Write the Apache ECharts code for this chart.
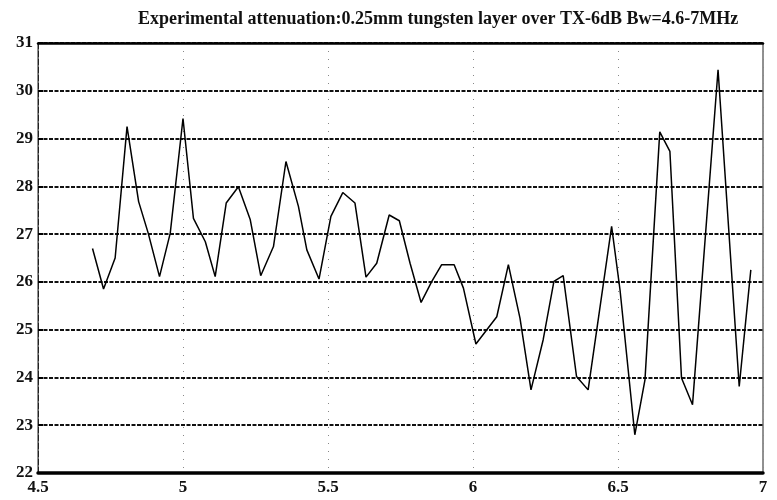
<!DOCTYPE html>
<html>
<head>
<meta charset="utf-8">
<script src="https://cdn.jsdelivr.net/npm/echarts@6/dist/echarts.min.js"></script>
<style>
html,body{margin:0;padding:0;background:#fff;}
#c{width:777px;height:500px;}
</style>
</head>
<body>
<div id="c"></div>
<script>
var titleText = 'Experimental attenuation:0.25mm tungsten layer over TX-6dB Bw=4.6-7MHz';
var freqMHz = [4.688,4.726,4.766,4.807,4.847,4.880,4.919,4.956,5.000,5.036,5.077,5.111,5.149,5.191,5.232,5.268,5.312,5.355,5.398,5.427,5.469,5.510,5.551,5.593,5.631,5.668,5.711,5.746,5.783,5.821,5.858,5.892,5.935,5.967,6.010,6.082,6.122,6.162,6.200,6.242,6.279,6.311,6.357,6.397,6.478,6.507,6.558,6.593,6.644,6.679,6.719,6.757,6.845,6.918,6.958];
var attenuation = [26.70,25.85,26.50,29.25,27.68,27.02,26.11,27.02,29.42,27.33,26.84,26.11,27.65,27.99,27.30,26.13,26.74,28.52,27.58,26.67,26.06,27.37,27.87,27.65,26.10,26.39,27.40,27.28,26.39,25.57,26.01,26.36,26.36,25.87,24.70,25.27,26.36,25.24,23.74,24.79,26.01,26.13,24.02,23.74,27.16,25.83,22.80,23.95,29.14,28.73,23.99,23.43,30.44,23.81,26.25];
var xTicks = [4.5,5,5.5,6,6.5,7];
var yTicks = [22,23,24,25,26,27,28,29,30,31];

var pts = freqMHz.map(function(x,i){return [x, attenuation[i]];});
var serif = '"Liberation Serif","DejaVu Serif",serif';
var chart = echarts.init(document.getElementById('c'), null, {renderer:'canvas'});
chart.setOption({
  animation:false,
  backgroundColor:'#fff',
  title:{text:titleText,left:133,top:5,textStyle:{fontFamily:serif,fontSize:18,fontWeight:'bold',color:'#111'}},
  grid:{left:38,right:14,top:43,bottom:27,show:true,borderColor:'#222',borderWidth:1,backgroundColor:'transparent'},
  xAxis:[{
    type:'value',min:xTicks[0],max:xTicks[xTicks.length-1],interval:0.5,position:'bottom',
    axisLine:{show:true,lineStyle:{color:'#000',width:3.5}},
    axisTick:{show:false},
    axisLabel:{margin:6,fontFamily:serif,fontSize:17,fontWeight:'bold',color:'#111',formatter:function(v){return String(v);}},
    splitLine:{show:true,lineStyle:{color:'#888',width:1,type:[1,7]}}
  },{
    type:'value',min:xTicks[0],max:xTicks[xTicks.length-1],position:'top',
    axisLine:{show:true,lineStyle:{color:'#000',width:2.5}},
    axisTick:{show:false},axisLabel:{show:false},splitLine:{show:false}
  }],
  yAxis:{
    type:'value',min:yTicks[0],max:yTicks[yTicks.length-1],interval:1,
    axisLine:{show:true,lineStyle:{color:'#222',width:1,type:[6,2]}},
    axisTick:{show:true,inside:true,length:5,lineStyle:{color:'#000',width:2}},
    axisLabel:{margin:5,fontFamily:serif,fontSize:17,fontWeight:'bold',color:'#111'},
    splitLine:{show:true,lineStyle:{color:'#111',width:2,type:[4,1.5]}}
  },
  series:[{
    type:'line',data:pts,xAxisIndex:0,symbol:'none',
    lineStyle:{color:'#000',width:1.5},
    z:5
  }]
});
</script>
</body>
</html>
